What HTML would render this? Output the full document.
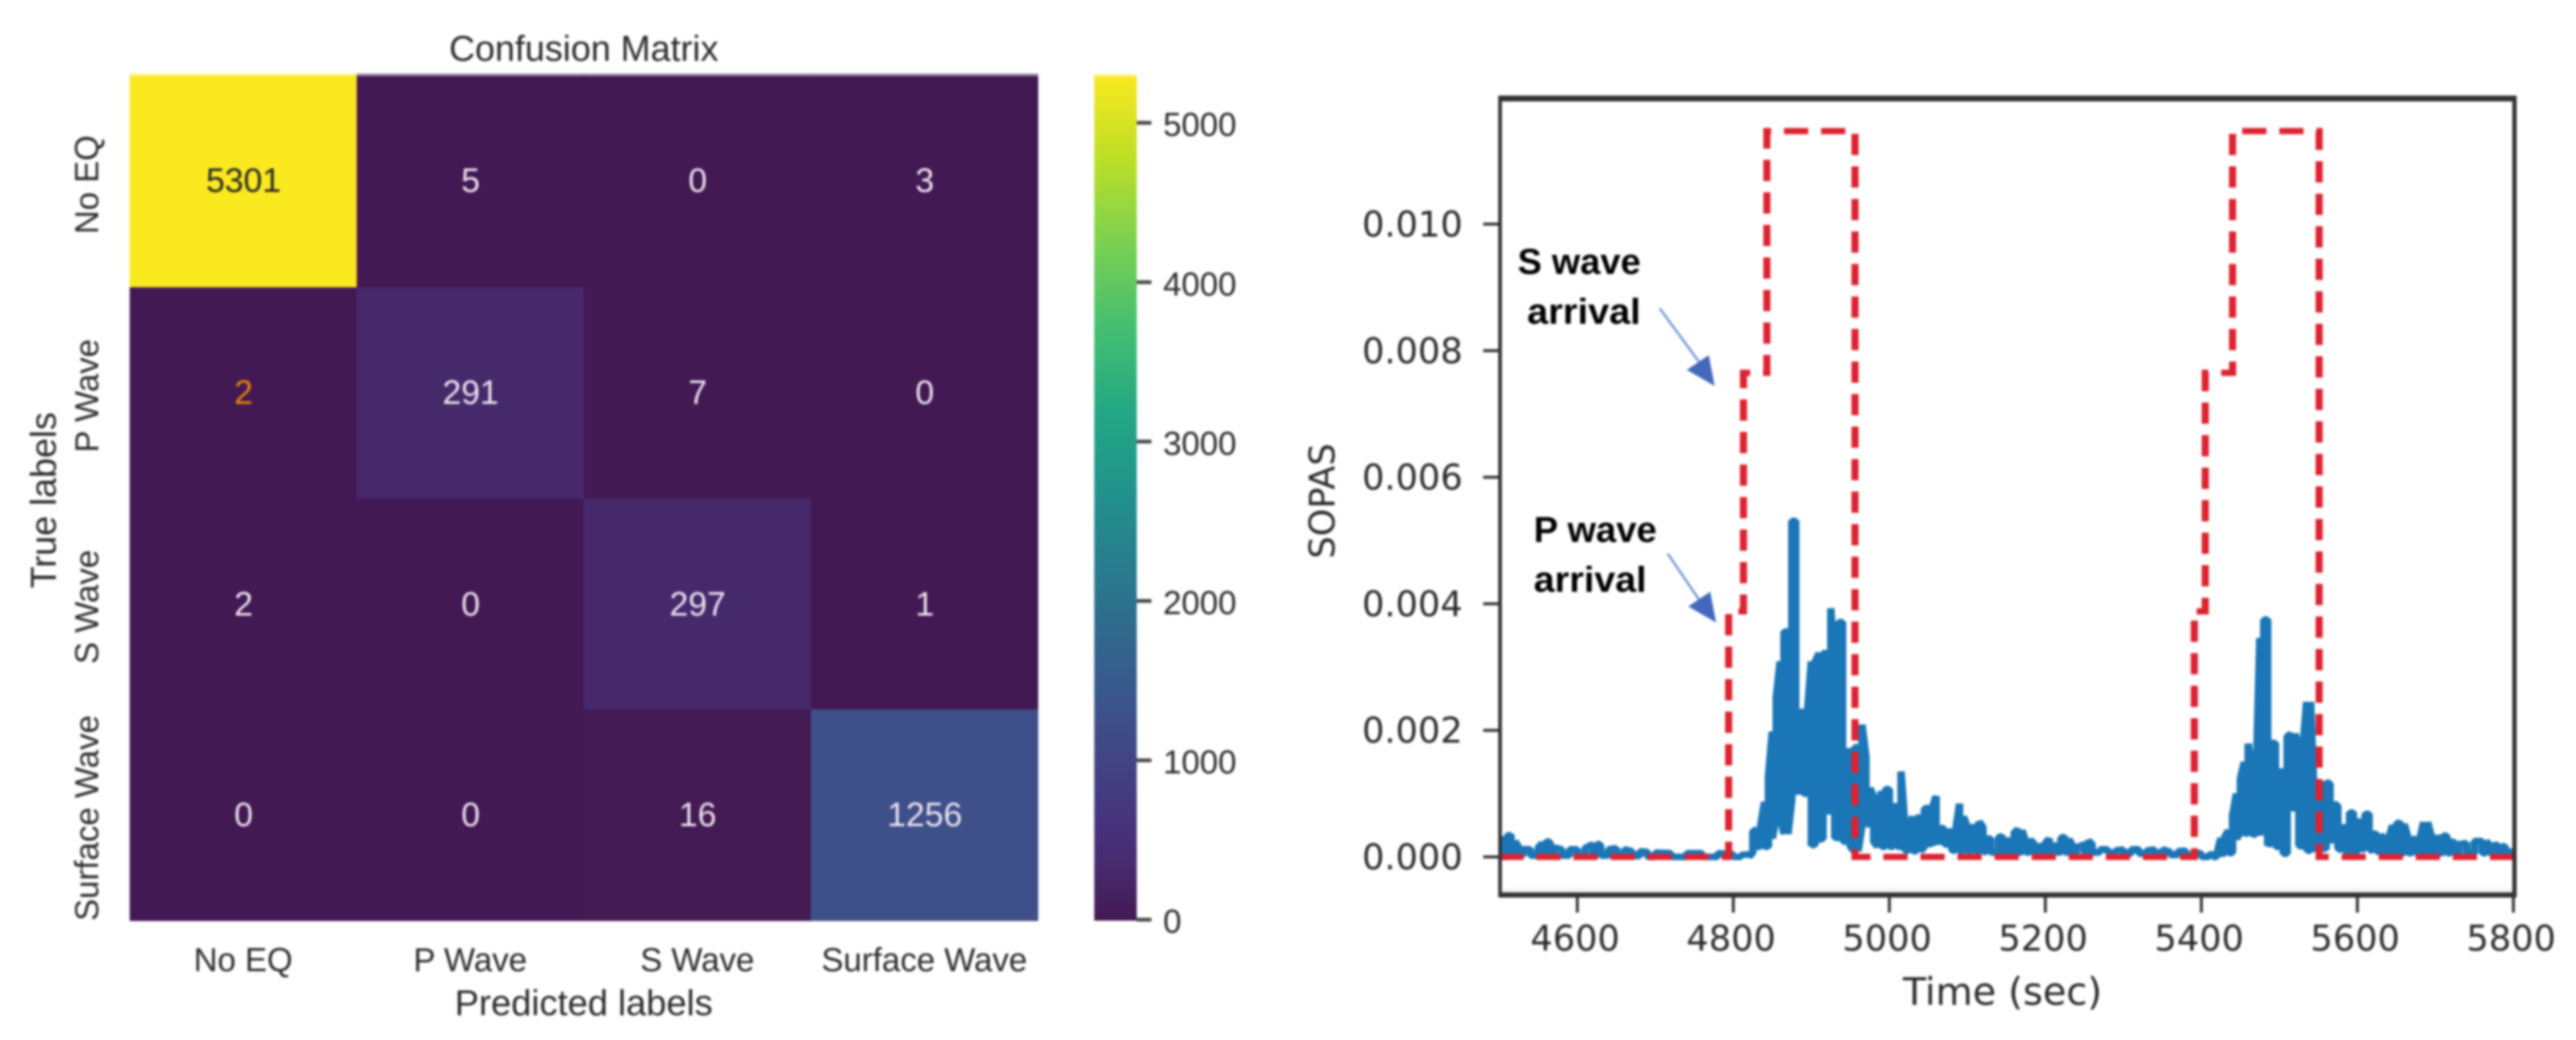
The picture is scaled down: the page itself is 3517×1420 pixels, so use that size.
<!DOCTYPE html>
<html lang="en">
<head>
<meta charset="utf-8">
<title>Confusion Matrix and SOPAS time series</title>
<style>
  html, body { margin: 0; padding: 0; background: #fff; }
  #figure { display: block; width: 3517px; height: 1420px; filter: blur(1.7px); }
  .arial { font-family: "Liberation Sans", Arial, sans-serif; fill: #2b2b2b; }
  .dejavu { font-family: "DejaVu Sans", sans-serif; fill: #2b2b2b; }
  .note { font-family: "Liberation Sans", sans-serif; font-weight: 700; fill: #000; }
</style>
</head>
<body>
<svg id="figure" xmlns="http://www.w3.org/2000/svg" width="3517" height="1420" viewBox="0 0 3517 1420">
  <rect x="0" y="0" width="3517" height="1420" fill="#fff"/>

  <g id="heatmap-panel">
    <text class="arial" x="797" y="83" font-size="49" text-anchor="middle">Confusion Matrix</text>
    <text class="arial" x="797" y="1386" font-size="49.5" text-anchor="middle">Predicted labels</text>
    <text class="arial" transform="translate(76,683) rotate(-90)" font-size="49" text-anchor="middle">True labels</text>
    <g id="heatmap-cells"></g>
    <g id="heatmap-labels"></g>
    <defs>
      <linearGradient id="colorbar-gradient" x1="0" y1="1" x2="0" y2="0"></linearGradient>
    </defs>
    <rect x="1494" y="101" width="58" height="1156" fill="url(#colorbar-gradient)"/>
    <rect x="1494" y="101" width="58" height="4" fill="#fff" opacity="0.45"/>
    <g id="colorbar-ticks"></g>
  </g>

  <g id="line-panel">
    <defs>
      <clipPath id="plot-clip"><rect x="1796.5" y="131" width="1214" height="1093"/></clipPath>
    </defs>
    <rect x="2048" y="1213" width="1384" height="6" fill="#f3f3f3"/>
    <g id="plot-stretch" transform="scale(1.14,1)" clip-path="url(#plot-clip)"></g>
    <rect x="2046" y="130.5" width="1389" height="8" fill="#333"/>
    <rect x="2046" y="1218.5" width="1389" height="7" fill="#333"/>
    <rect x="2045.5" y="131" width="5" height="1094" fill="#333"/>
    <rect x="3430" y="131" width="6" height="1094" fill="#333"/>
    <g id="line-ticks"></g>
    <text class="dejavu" x="2734" y="1372" font-size="52" text-anchor="middle">Time (sec)</text>
    <text class="dejavu" transform="translate(1822,684) rotate(-90)" font-size="48" text-anchor="middle">SOPAS</text>

    <text class="note" x="2072" y="374" font-size="49" textLength="168" lengthAdjust="spacingAndGlyphs">S wave</text>
    <text class="note" x="2085" y="442" font-size="49" textLength="155" lengthAdjust="spacingAndGlyphs">arrival</text>
    <line x1="2266" y1="421" x2="2324" y2="500" stroke="#6d90d2" stroke-width="3"/>
    <polygon points="2341,527 2303,505 2333,485" fill="#4468bb"/>

    <text class="note" x="2094" y="740" font-size="49" textLength="168" lengthAdjust="spacingAndGlyphs">P wave</text>
    <text class="note" x="2094" y="808" font-size="49" textLength="154" lengthAdjust="spacingAndGlyphs">arrival</text>
    <line x1="2277" y1="756" x2="2324" y2="825" stroke="#6d90d2" stroke-width="3"/>
    <polygon points="2343,850 2305,828 2335,808" fill="#4468bb"/>
  </g>
</svg>

<script>
// ---------- Confusion matrix data ----------
var classLabels = ['No EQ', 'P Wave', 'S Wave', 'Surface Wave'];
var confusionRow0 = [5301, 5, 0, 3];
var confusionRow1 = [2, 291, 7, 0];
var confusionRow2 = [2, 0, 297, 1];
var confusionRow3 = [0, 0, 16, 1256];
var colorbarTicks = [0, 1000, 2000, 3000, 4000, 5000];
var colorbarMax = 5301;
var colorStopFractions = [0, 0.055, 0.1, 0.237, 0.3, 0.4, 0.5, 0.6, 0.7, 0.8, 0.9, 1];
var colorStopColors = ['#431953', '#46296b', '#47307b', '#3e4f8a', '#355f8d', '#2a788e', '#21918c', '#22a884', '#44bf70', '#7ad151', '#bddf26', '#fae91f'];

// ---------- SOPAS series data (band of the oscillating signal, values x 1e-5) ----------
var timeSec = [
  4500,4505,4510,4515,4520,4525,4530,4540,4550,4555,
  4560,4565,4570,4580,4590,4600,4610,4620,4625,4630,
  4640,4650,4660,4670,4680,4690,4700,4720,4740,4760,
  4780,4800,4810,4820,4825,4830,4835,4840,4845,4850,
  4855,4860,4865,4870,4875,4880,4885,4890,4895,4900,
  4905,4910,4915,4920,4925,4930,4935,4940,4945,4950,
  4955,4960,4965,4970,4975,4980,4985,4990,4995,5000,
  5005,5010,5015,5020,5025,5030,5035,5040,5045,5050,
  5055,5060,5065,5070,5075,5080,5085,5090,5095,5100,
  5105,5110,5115,5120,5125,5130,5140,5145,5150,5155,
  5160,5165,5170,5175,5180,5185,5190,5195,5200,5205,
  5210,5215,5220,5225,5230,5235,5240,5250,5255,5260,
  5270,5280,5290,5300,5310,5320,5330,5340,5350,5360,
  5370,5380,5390,5400,5410,5415,5420,5425,5430,5435,
  5440,5445,5450,5455,5460,5465,5470,5475,5480,5485,
  5490,5495,5500,5505,5510,5515,5520,5525,5530,5535,
  5540,5545,5550,5555,5560,5565,5570,5575,5580,5585,
  5590,5595,5600,5605,5610,5615,5620,5625,5630,5635,
  5640,5645,5650,5655,5660,5665,5670,5675,5680,5685,
  5690,5695,5700,5705,5710,5715,5720,5725,5730,5740,
  5750,5760,5765,5770,5775,5780,5785,5790,5795,5800
];
var sopasHigh = [
  25,30,33,35,25,15,12,12,15,22,
  25,23,15,12,12,12,14,20,22,18,
  12,14,12,9,9,8,7,6,6,6,
  6,4,3,4,40,44,49,87,127,198,
  251,309,356,356,531,531,229,229,229,309,
  309,322,322,322,393,287,371,371,167,167,
  171,175,209,158,109,95,64,104,107,107,
  80,80,135,47,44,64,64,60,76,78,
  78,96,47,44,42,38,42,84,64,47,
  47,47,56,47,29,29,31,33,24,27,
  38,44,42,24,27,22,20,11,22,29,
  15,20,30,32,28,18,15,20,26,20,
  12,12,10,12,12,12,10,12,12,8,
  9,10,8,5,5,3,5,30,32,42,
  65,100,123,150,179,130,115,346,375,375,
  180,180,135,135,190,195,195,170,170,245,
  245,80,75,110,119,115,85,80,50,40,
  70,70,40,60,68,68,38,35,35,28,
  28,50,52,55,52,30,28,28,28,55,
  55,32,30,30,35,32,25,22,20,22,
  25,25,25,18,18,20,18,15,8,8
];
var sopasLow = [
  0,0,0,2,2,2,2,2,2,2,
  2,2,2,2,2,2,2,2,2,2,
  2,2,2,2,1,0,0,0,0,0,
  0,0,0,0,7,16,16,16,16,29,
  64,64,36,36,91,109,100,100,100,18,
  20,27,29,144,67,31,29,27,22,16,
  9,9,51,87,47,24,16,16,16,16,
  16,16,16,11,9,9,9,9,16,24,
  18,24,24,22,18,11,9,9,9,9,
  9,9,9,9,7,7,7,7,7,7,
  7,7,7,7,7,7,7,7,7,7,
  7,7,7,7,7,7,7,7,7,7,
  7,7,7,5,5,5,5,5,5,3,
  3,3,2,0,0,0,0,5,5,5,
  7,28,39,37,37,37,34,34,100,18,
  24,18,14,5,5,78,76,18,16,12,
  8,12,14,14,12,47,22,14,10,8,
  8,8,8,10,16,14,8,8,8,8,
  6,6,6,6,6,6,6,6,6,6,
  6,6,6,6,6,6,6,6,6,6,
  6,6,6,6,6,6,6,6,6,6
];

// ---------- Predicted arrival window (red dashed step line) ----------
var windowTimes = [4500, 4794, 4794, 4813, 4813, 4843, 4843, 4956, 4956, 5391, 5391, 5405, 5405, 5440, 5440, 5551, 5551, 5800];
var windowValues = [0, 0, 0.00388, 0.00388, 0.00765, 0.00765, 0.01147, 0.01147, 0, 0, 0.00388, 0.00388, 0.00765, 0.00765, 0.01147, 0.01147, 0, 0];

var xTickValues = [4600, 4800, 5000, 5200, 5400, 5600, 5800];
var yTickValues = [0, 0.002, 0.004, 0.006, 0.008, 0.01];

// ---------- Helpers and axis functions ----------
var SVG_NS = 'http://www.w3.org/2000/svg';
function make(tag, attrs, parent) {
  var node = document.createElementNS(SVG_NS, tag);
  for (var key in attrs) { node.setAttribute(key, attrs[key]); }
  parent.appendChild(node);
  return node;
}
function hexToRgb(h) {
  return [parseInt(h.substr(1, 2), 16), parseInt(h.substr(3, 2), 16), parseInt(h.substr(5, 2), 16)];
}
function colorFor(value) {
  var f = Math.max(0, Math.min(1, value / colorbarMax));
  for (var i = 1; i < colorStopFractions.length; i++) {
    if (f <= colorStopFractions[i]) {
      var a = colorStopFractions[i - 1], b = colorStopFractions[i];
      var t = (f - a) / (b - a);
      var c0 = hexToRgb(colorStopColors[i - 1]), c1 = hexToRgb(colorStopColors[i]);
      return 'rgb(' + Math.round(c0[0] + (c1[0] - c0[0]) * t) + ',' + Math.round(c0[1] + (c1[1] - c0[1]) * t) + ',' + Math.round(c0[2] + (c1[2] - c0[2]) * t) + ')';
    }
  }
  return colorStopColors[colorStopColors.length - 1];
}
var HEAT_LEFT = 177, HEAT_TOP = 104, CELL_W = 310, CELL_H = 288.25;
function colToX(c) { return HEAT_LEFT + c * CELL_W; }
function rowToY(r) { return HEAT_TOP + r * CELL_H; }
function cbarToY(v) { return 1255.7 - v * 0.2176; }
function timeToX(t) { return 2047 + (t - 4500) * 1.065; }
function sopasToY(v) { return 1170 - v * 86400; }
var STRETCH = 1.14;

// ---------- Draw heatmap ----------
var confusionRows = [confusionRow0, confusionRow1, confusionRow2, confusionRow3];
var cellsGroup = document.getElementById('heatmap-cells');
var labelsGroup = document.getElementById('heatmap-labels');
confusionRows.forEach(function (rowValues, r) {
  rowValues.forEach(function (value, c) {
    var cell = make('rect', { x: colToX(c), y: rowToY(r), width: CELL_W + 0.5, height: CELL_H + 0.5, fill: colorFor(value) }, cellsGroup);
    
    
    if (r === 0) {
      var edge = make('rect', { x: colToX(c), y: rowToY(0) - 3.5, width: CELL_W + 0.5, height: 4, fill: colorFor(value), opacity: 0.55 }, cellsGroup);
      
      
    }
  });
});
var centerOffsets = [14, 15, 16, 15];
confusionRows.forEach(function (rowValues, r) {
  rowValues.forEach(function (value, c) {
    var fill = (value > 4000) ? '#262626' : '#ece4f0';
    if (r === 1 && c === 0) { fill = '#e8820c'; }
    var label = make('text', {
      x: colToX(c) + CELL_W / 2 + 0.5,
      y: rowToY(r) + CELL_H / 2 + centerOffsets[r],
      'font-size': 46,
      'text-anchor': 'middle',
      'font-family': '"Liberation Sans", Arial, sans-serif',
      fill: fill
    }, cellsGroup);
    label.textContent = String(value);
    
    
  });
});
classLabels.forEach(function (name, i) {
  var xLabel = make('text', { x: colToX(i) + CELL_W / 2, y: 1326, 'font-size': 45, 'text-anchor': 'middle', 'class': 'arial' }, labelsGroup);
  xLabel.textContent = name;
  
  
  var yLabel = make('text', { transform: 'translate(134,' + (rowToY(i) + CELL_H / 2 + 4) + ') rotate(-90)', 'font-size': 45, 'text-anchor': 'middle', 'class': 'arial' }, labelsGroup);
  yLabel.textContent = name;
  
  
});

// ---------- Draw colorbar ----------
var gradient = document.getElementById('colorbar-gradient');
colorStopFractions.forEach(function (f, i) {
  make('stop', { offset: f, 'stop-color': colorStopColors[i] }, gradient);
});
var cbarTicksGroup = document.getElementById('colorbar-ticks');
colorbarTicks.forEach(function (v) {
  var tick = make('rect', { x: 1552, y: cbarToY(v) - 2.5, width: 20, height: 5, fill: '#444' }, cbarTicksGroup);
  
  
  var label = make('text', { x: 1588, y: cbarToY(v) + 18, 'font-size': 45, 'class': 'arial' }, cbarTicksGroup);
  label.textContent = String(v);
  
  
});

// ---------- Draw SOPAS line and step window ----------
var plotGroup = document.getElementById('plot-stretch');
var lineData = '';
timeSec.forEach(function (t, i) {
  var x = (timeToX(t) / STRETCH).toFixed(2);
  var yHigh = sopasToY(sopasHigh[i] * 1e-5).toFixed(2);
  var yLow = sopasToY(sopasLow[i] * 1e-5).toFixed(2);
  var first = (i % 2 === 0) ? yLow : yHigh;
  var second = (i % 2 === 0) ? yHigh : yLow;
  lineData += (i === 0 ? 'M' : 'L') + x + ' ' + first + 'L' + x + ' ' + second;
});
var sopasLine = make('path', { d: lineData, fill: 'none', stroke: '#1a76b6', 'stroke-width': 9, 'stroke-linejoin': 'bevel' }, plotGroup);



var windowData = '';
windowTimes.forEach(function (t, i) {
  windowData += (i === 0 ? 'M' : 'L') + (timeToX(t) / STRETCH).toFixed(2) + ' ' + sopasToY(windowValues[i]).toFixed(2);
});
var windowLine = make('path', { d: windowData, fill: 'none', stroke: '#dd2230', 'stroke-width': 8.5, 'stroke-dasharray': '29 15.4', 'stroke-linejoin': 'miter' }, plotGroup);



// ---------- Draw line chart ticks ----------
var lineTicksGroup = document.getElementById('line-ticks');
xTickValues.forEach(function (t) {
  var tick = make('rect', { x: timeToX(t) - 2, y: 1224, width: 4, height: 22, fill: '#333' }, lineTicksGroup);
  
  
  var label = make('text', { x: timeToX(t) - 3, y: 1298, 'font-size': 48, 'text-anchor': 'middle', 'class': 'dejavu' }, lineTicksGroup);
  label.textContent = String(t);
  
  
});
yTickValues.forEach(function (v) {
  var tick = make('rect', { x: 2025, y: sopasToY(v) - 2, width: 22, height: 4, fill: '#333' }, lineTicksGroup);
  
  
  var label = make('text', { x: 1997, y: sopasToY(v) + 17, 'font-size': 48, 'text-anchor': 'end', 'class': 'dejavu' }, lineTicksGroup);
  label.textContent = v.toFixed(3);
  
  
});
</script>
</body>
</html>
